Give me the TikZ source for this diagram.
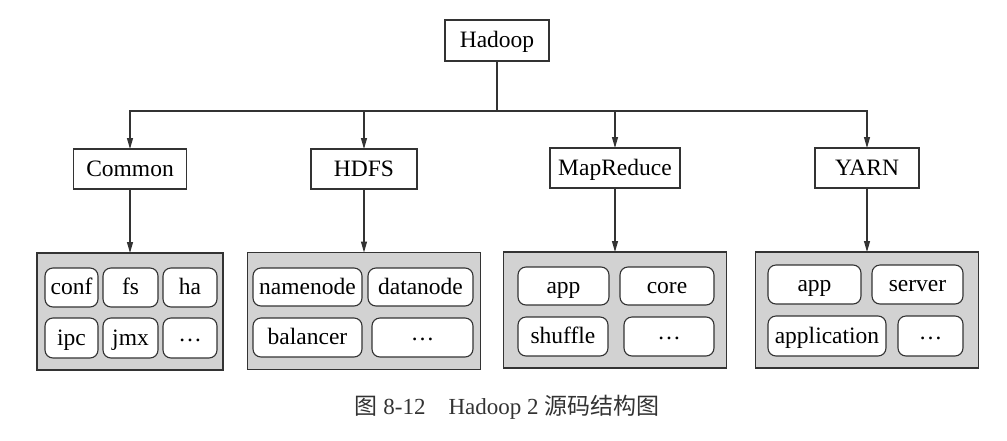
\documentclass[tikz,border=0pt]{standalone}
\usepackage{fontspec}
\setmainfont{Liberation Serif}
\newfontfamily\cjk{Noto Sans CJK SC}
\usetikzlibrary{arrows.meta}
\definecolor{linec}{HTML}{333333}
\definecolor{grayfill}{HTML}{D2D2D2}
\newcommand{\dotsc}{\raisebox{4pt}{…}}
\begin{document}
\begin{tikzpicture}[x=1pt,y=-1pt,
  every node/.style={font=\fontsize{23.5}{28}\selectfont, inner sep=0pt, outer sep=0pt, text height=18pt, text depth=4pt},
  topbox/.style={draw=linec, line width=1.1pt, fill=white},
  groupbox/.style={draw=linec, line width=1.1pt, fill=grayfill},
  cellbox/.style={draw=linec, line width=1.1pt, fill=white, rounded corners=8pt},
  conn/.style={draw=linec, line width=1.1pt},
  arr/.style={conn, -{Triangle[length=11pt,width=6pt]}}]
\useasboundingbox (0,0) rectangle (1007,440);
% top level
\node[topbox, minimum width=104pt, minimum height=41pt] (hadoop) at (497,40.5) {Hadoop};
\node[topbox, minimum width=113pt, minimum height=40pt] (common) at (130,169) {Common};
\node[topbox, minimum width=106pt, minimum height=40pt] (hdfs) at (364,169) {HDFS};
\node[topbox, minimum width=130pt, minimum height=40pt] (mr) at (615,168) {MapReduce};
\node[topbox, minimum width=104pt, minimum height=40pt] (yarn) at (867,168) {YARN};
\coordinate (bus) at (497,111);
\draw[conn] (hadoop.south) -- (bus);
\draw[arr] (bus) -| (common.north);
\draw[arr] (bus) -| (hdfs.north);
\draw[arr] (bus) -| (mr.north);
\draw[arr] (bus) -| (yarn.north);
% groups
\node[groupbox, minimum width=186pt, minimum height=117pt] (g1) at (130,311.5) {};
\node[groupbox, minimum width=233pt, minimum height=117pt] (g2) at (364,311) {};
\node[groupbox, minimum width=223pt, minimum height=116pt] (g3) at (615,310) {};
\node[groupbox, minimum width=223pt, minimum height=116pt] (g4) at (867,310) {};
\draw[arr] (common.south) -- (g1.north);
\draw[arr] (hdfs.south) -- (g2.north);
\draw[arr] (mr.south) -- (g3.north);
\draw[arr] (yarn.south) -- (g4.north);
% Common cells
\node[cellbox, minimum width=53pt, minimum height=39pt] (conf) at (71.5,287.5) {conf};
\node[cellbox, minimum width=55pt, minimum height=39pt] (fs) at (130.5,287.5) {fs};
\node[cellbox, minimum width=54pt, minimum height=39pt] (ha) at (190,287.5) {ha};
\node[cellbox, minimum width=53pt, minimum height=40pt] (ipc) at (71.5,338) {ipc};
\node[cellbox, minimum width=55pt, minimum height=40pt] (jmx) at (130.5,338) {jmx};
\node[cellbox, minimum width=54pt, minimum height=40pt] (cdots) at (190,338) {\dotsc};
% HDFS cells
\node[cellbox, minimum width=109pt, minimum height=38pt] (namenode) at (307.5,287) {namenode};
\node[cellbox, minimum width=105pt, minimum height=38pt] (datanode) at (420.5,287) {datanode};
\node[cellbox, minimum width=109pt, minimum height=39pt] (balancer) at (307.5,337.5) {balancer};
\node[cellbox, minimum width=101pt, minimum height=39pt] (hdots) at (422.5,337.5) {\dotsc};
% MapReduce cells
\node[cellbox, minimum width=91pt, minimum height=38pt] (mapp) at (563.5,286) {app};
\node[cellbox, minimum width=94pt, minimum height=38pt] (core) at (667,286) {core};
\node[cellbox, minimum width=90pt, minimum height=39pt] (shuffle) at (563,336.5) {shuffle};
\node[cellbox, minimum width=90pt, minimum height=39pt] (mdots) at (669,336.5) {\dotsc};
% YARN cells
\node[cellbox, minimum width=93pt, minimum height=39pt] (yapp) at (814.5,284.5) {app};
\node[cellbox, minimum width=91pt, minimum height=39pt] (server) at (917.5,284.5) {server};
\node[cellbox, minimum width=118pt, minimum height=40pt] (application) at (827,336) {application};
\node[cellbox, minimum width=65pt, minimum height=40pt] (ydots) at (930.5,336) {\dotsc};
% caption
\node[font=\fontsize{23}{28}\selectfont, text=linec] (caption) at (507,407) {{\cjk 图} 8-12\quad Hadoop 2 {\cjk 源码结构图}};
\end{tikzpicture}
\end{document}
